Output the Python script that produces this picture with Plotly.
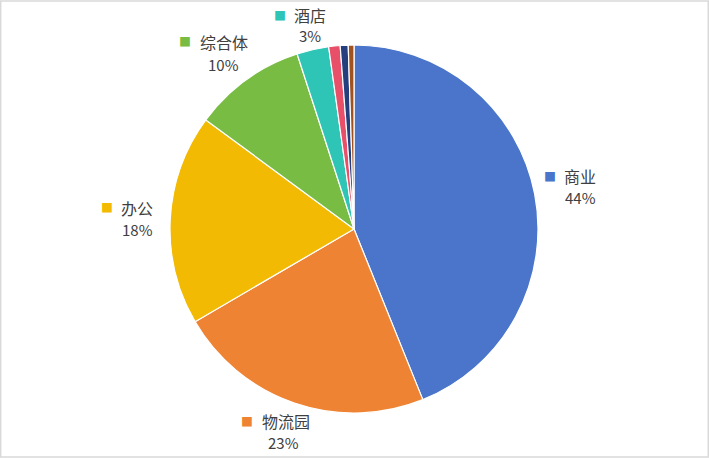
import plotly.graph_objects as go

# slice data (clockwise from 12 o'clock)
labels = ["商业", "物流园", "办公", "综合体", "酒店", "住宅", "工业", "其他"]
values = [43.9, 22.7, 18.5, 9.9, 2.8, 1.0, 0.7, 0.5]
colors = ["#4A75CB", "#EE8433", "#F2BA02", "#78BC43", "#2EC4B6",
          "#E8506A", "#243E7E", "#A0521F"]

W, H = 709, 458

# label layout in pixels: square centre, name centre, percent centre
label_pos = {
    "商业": ((550, 176), (580, 176), (580, 197)),
    "物流园": ((247, 421), (286, 421), (283, 442)),
    "办公": ((107, 207), (137, 208), (137, 229)),
    "综合体": ((184.5, 41), (223.5, 42), (223.5, 64)),
    "酒店": ((280, 15), (309.5, 14.5), (309.5, 36)),
}

cx, cy, r = 354, 229, 184

fig = go.Figure()
fig.add_trace(go.Pie(
    labels=labels,
    values=values,
    sort=False,
    direction="clockwise",
    rotation=0,
    textinfo="none",
    hoverinfo="label+percent",
    marker=dict(colors=colors, line=dict(color="white", width=1.2)),
    domain=dict(x=[(cx - r) / W, (cx + r) / W], y=[1 - (cy + r) / H, 1 - (cy - r) / H]),
    showlegend=False,
))

total = sum(values)
font = "Noto Sans CJK SC, Microsoft YaHei, sans-serif"


def add_text(px, py, text, size, color):
    fig.add_annotation(x=px / W, y=1 - py / H, xref="paper", yref="paper",
                       xanchor="center", yanchor="middle", text=text, showarrow=False,
                       font=dict(size=size, color=color, family=font))


for name, val, col in zip(labels, values, colors):
    if name not in label_pos:
        continue
    sq, nm, pc = label_pos[name]
    add_text(sq[0], sq[1], "■", 12, col)
    add_text(nm[0], nm[1], name, 16, "#404040")
    add_text(pc[0], pc[1], f"{val / total * 100:.0f}%", 15, "#404040")

# light grey chart border
fig.add_shape(type="rect", xref="paper", yref="paper", x0=0.001, y0=0.002, x1=0.999, y1=0.998,
              line=dict(color="#D9D9D9", width=1.5))

fig.update_layout(
    width=W, height=H,
    margin=dict(l=0, r=0, t=0, b=0),
    paper_bgcolor="white",
    plot_bgcolor="white",
)

# drop the default page margin so the chart sits at the window's top-left
fig.write_html("out.html", config={"displayModeBar": False},
               post_script="document.body.style.margin='0';")
